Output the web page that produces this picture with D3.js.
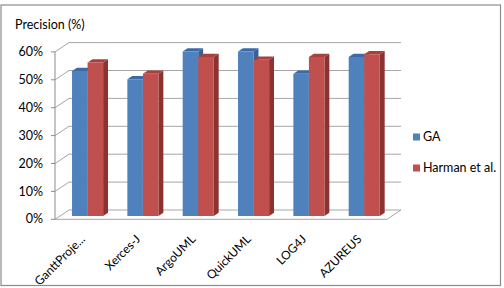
<!DOCTYPE html>
<html>
<head>
<meta charset="UTF-8">
<title>Precision (%)</title>
<style>
    body { margin: 0; background: #fff; }
    text { font-family: Lato, "Open Sans", sans-serif; fill: #000; }
    .tick-lbl { font-size: 12.5px; text-anchor: end; dominant-baseline: middle; }
    .cat-lbl { font-size: 12px; text-anchor: end; }
    .leg { font-size: 12.5px; dominant-baseline: middle; }
</style>
</head>
<body>
<script src="https://d3js.org/d3.v7.min.js"></script>
<svg id="svg" width="504" height="288"></svg>
<script>
    const categories = ["GanttProje...", "Xerces-J", "ArgoUML", "QuickUML", "LOG4J", "AZUREUS"];
    const series = ["GA", "Harman et al."];
    const gaValues = [52, 49, 59, 59, 51, 57];
    const harmanValues = [55, 51, 57, 56, 57, 58];
    const yTicks = [0, 10, 20, 30, 40, 50, 60];

    const svg = d3.select("#svg");

    // colours: front, side, top
    const colors = {
        "GA": ["#4f81bd", "#37609a", "#3c6aa6"],
        "Harman et al.": ["#c0504d", "#8c3230", "#a8403d"]
    };

    // outer frame
    svg.append("rect").attr("x", 1).attr("y", 5).attr("width", 499.5).attr("height", 280.5)
        .attr("fill", "#fff").attr("stroke", "#8c8c8c").attr("stroke-width", 1.2);

    // oblique projection: depth d in [0,1]
    const depthX = 14, depthY = 9.3;
    const y0 = 219.3;
    const x0 = d3.scaleBand().domain(categories).range([55, 387]);
    const x1 = d3.scaleBand().domain(series).range([0, x0.bandwidth()]).paddingOuter(0.78);
    const y = d3.scaleLinear().domain([0, 60]).range([0, 167.4]);
    const P = (x, v, d) => [x + d * depthX, y0 - y(v) - d * depthY];
    const poly = pts => "M" + pts.map(p => p.join(",")).join("L") + "Z";

    const grid = svg.append("g").attr("stroke", "#a6a6a6").attr("stroke-width", 1).attr("fill", "none");
    const [xl, xr] = x0.range();
    yTicks.forEach(t => {
        // back wall gridline
        const a = P(xl, t, 1), b = P(xr, t, 1);
        grid.append("line").attr("x1", a[0]).attr("y1", a[1]).attr("x2", b[0]).attr("y2", b[1]);
        // left wall
        const c = P(xl, t, 0);
        grid.append("line").attr("x1", c[0]).attr("y1", c[1]).attr("x2", a[0]).attr("y2", a[1]);
        // tick
        grid.append("line").attr("x1", c[0] - 4).attr("y1", c[1]).attr("x2", c[0]).attr("y2", c[1]).attr("stroke", "#8c8c8c");
        svg.append("text").attr("class", "tick-lbl").attr("x", c[0] - 12).attr("y", c[1] + 1).text(t + "%");
    });
    // floor front edge + right edge
    const f0 = P(xl, 0, 0), f1 = P(xr, 0, 0), f2 = P(xr, 0, 1);
    grid.append("path").attr("d", "M" + f0 + "L" + f1 + "L" + f2);
    // vertical axis
    const vTop = P(xl, 60, 0);
    grid.append("line").attr("x1", f0[0]).attr("y1", f0[1]).attr("x2", vTop[0]).attr("y2", vTop[1]).attr("stroke", "#8c8c8c");

    // bars
    const d0 = 0.35, d1 = 0.7;
    const bars = svg.append("g");
    categories.forEach((cat, i) => {
        const vals = [gaValues[i], harmanValues[i]];
        series.forEach((s, j) => {
            const v = vals[j];
            const bx = x0(cat) + x1(s), bw = x1.bandwidth();
            const col = colors[s];
            const g = bars.append("g");
            g.append("path").attr("fill", col[1])
                .attr("d", poly([P(bx + bw, 0, d0), P(bx + bw, v, d0), P(bx + bw, v, d1), P(bx + bw, 0, d1)]));
            g.append("path").attr("fill", col[2])
                .attr("d", poly([P(bx, v, d0), P(bx + bw, v, d0), P(bx + bw, v, d1), P(bx, v, d1)]));
            g.append("path").attr("fill", col[0])
                .attr("d", poly([P(bx, 0, d0), P(bx + bw, 0, d0), P(bx + bw, v, d0), P(bx, v, d0)]));
        });
        // category label
        const cx = x0(cat) + x0.bandwidth() / 2 + 3;
        svg.append("text").attr("class", "cat-lbl")
            .attr("transform", "translate(" + cx + "," + 240 + ") rotate(-45)")
            .text(cat);
    });

    // y title
    svg.append("text").attr("x", 15).attr("y", 29).style("font-size", "12.5px").text("Precision (%)");

    // legend
    const legend = svg.append("g");
    series.forEach((s, j) => {
        const ly = 137 + j * 31;
        legend.append("rect").attr("x", 413).attr("y", ly - 3.5).attr("width", 7).attr("height", 7).attr("fill", colors[s][0]);
        legend.append("text").attr("class", "leg").attr("x", 423).attr("y", ly + 1).text(s);
    });
</script>
</body>
</html>
